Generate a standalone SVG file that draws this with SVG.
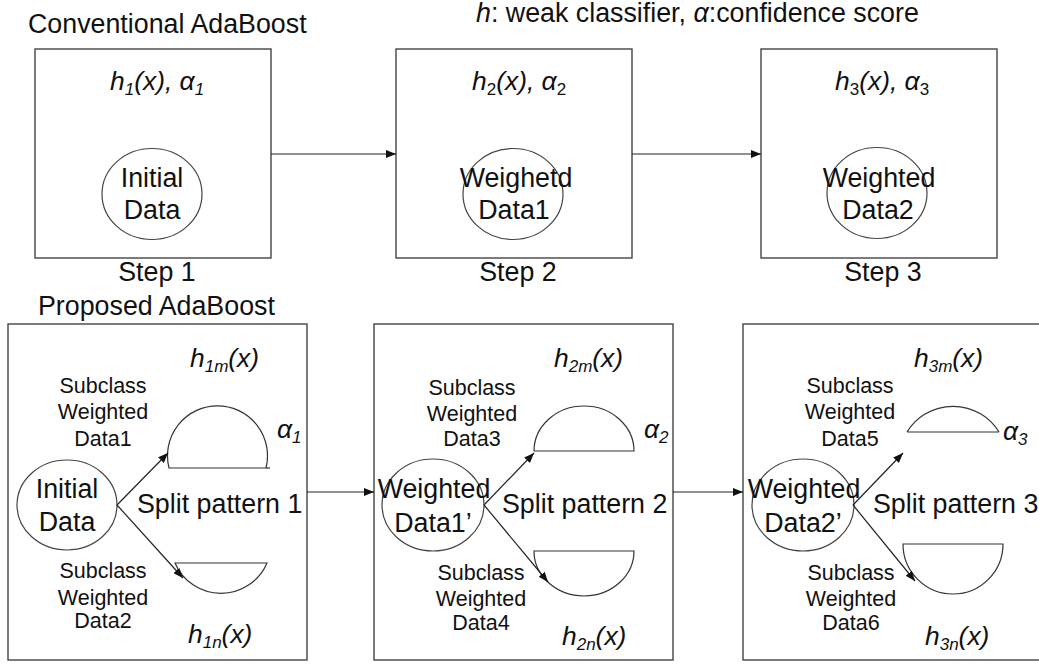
<svg xmlns="http://www.w3.org/2000/svg" width="1039" height="664" viewBox="0 0 1039 664">
  <style>
    .t { font-family: "Liberation Sans", Arial, sans-serif; fill: #111; }
    .big { font-size: 26.8px; }
    .sub { font-size: 21.5px; }
    .it { font-style: italic; font-size: 26.4px; }
    .s { font-size: 17px; }
    .box { fill: #fff; stroke: #444; stroke-width: 1.4; }
    .ell { fill: #fff; stroke: #444; stroke-width: 1.2; }
    .seg { fill: #fff; stroke: #333; stroke-width: 1.2; }
    .con { fill: none; stroke: #222; stroke-width: 1.2; marker-end: url(#ah); }
  </style>
  <defs>
    <marker id="ah" viewBox="0 0 10 8" refX="10" refY="4" markerWidth="10" markerHeight="8" markerUnits="userSpaceOnUse" orient="auto">
      <path d="M0,0 L10,4 L0,8 Z" fill="#111"/>
    </marker>
  </defs>
  <rect width="1039" height="664" fill="#fff"/>

  <!-- headings -->
  <text class="t big" x="28" y="33">Conventional AdaBoost</text>
  <text class="t big" x="476" y="22"><tspan font-style="italic">h</tspan>: weak classifier, <tspan font-style="italic">α</tspan>:confidence score</text>
  <text class="t big" x="38" y="315">Proposed AdaBoost</text>

  <!-- conventional: step 1 -->
  <g id="step1">
    <rect class="box" x="35" y="49" width="236" height="209"/>
    <text class="t it" x="110" y="90">h<tspan class="s" dy="5">1</tspan><tspan dy="-5">(x), α</tspan><tspan class="s" dy="5">1</tspan></text>
    <ellipse class="ell" cx="152" cy="194" rx="50" ry="45.5"/>
    <text class="t big" x="152" y="187" text-anchor="middle">Initial</text>
    <text class="t big" x="152" y="219" text-anchor="middle">Data</text>
    <text class="t big" x="157" y="281" text-anchor="middle">Step 1</text>
  </g>

  <!-- conventional: step 2 -->
  <g id="step2">
    <rect class="box" x="396" y="49" width="236" height="209"/>
    <text class="t it" x="472" y="90">h<tspan class="s" dy="5" font-style="normal">2</tspan><tspan dy="-5">(x), α</tspan><tspan class="s" dy="5" font-style="normal">2</tspan></text>
    <ellipse class="ell" cx="513" cy="194" rx="50" ry="45.5"/>
    <text class="t big" x="516" y="187" text-anchor="middle">Weighetd</text>
    <text class="t big" x="514" y="219" text-anchor="middle">Data1</text>
    <text class="t big" x="518" y="281" text-anchor="middle">Step 2</text>
  </g>

  <!-- conventional: step 3 -->
  <g id="step3">
    <rect class="box" x="761" y="49" width="236" height="209"/>
    <text class="t it" x="835" y="90">h<tspan class="s" dy="5" font-style="normal">3</tspan><tspan dy="-5">(x), α</tspan><tspan class="s" dy="5" font-style="normal">3</tspan></text>
    <ellipse class="ell" cx="877" cy="193" rx="50" ry="45.5"/>
    <text class="t big" x="879" y="187" text-anchor="middle">Weighted</text>
    <text class="t big" x="878" y="219" text-anchor="middle">Data2</text>
    <text class="t big" x="883" y="281" text-anchor="middle">Step 3</text>
  </g>

  <!-- proposed: pattern 1 -->
  <g id="pattern1">
    <rect class="box" x="8" y="324" width="299" height="336"/>
    <text class="t it" x="190" y="367">h<tspan class="s" dy="5">1m</tspan><tspan dy="-5">(x)</tspan></text>
    <text class="t sub" x="103" y="393" text-anchor="middle">Subclass</text>
    <text class="t sub" x="103" y="419" text-anchor="middle">Weighted</text>
    <text class="t sub" x="103" y="446" text-anchor="middle">Data1</text>
    <path class="seg" d="M169,468 A50,50 0 1 1 266,468 Z"/>
    <line x1="266" y1="468" x2="270" y2="468" stroke="#333" stroke-width="1.2"/>
    <text class="t it" x="277" y="438">α<tspan class="s" dy="5">1</tspan></text>
    <ellipse class="ell" cx="67" cy="505" rx="50" ry="45"/>
    <text class="t big" x="67" y="498" text-anchor="middle">Initial</text>
    <text class="t big" x="67" y="531" text-anchor="middle">Data</text>
    <text class="t big" x="137" y="513">Split pattern 1</text>
    <path class="seg" d="M175,563 L267,563 A50,50 0 0 1 175,563 Z"/>
    <text class="t sub" x="103" y="578" text-anchor="middle">Subclass</text>
    <text class="t sub" x="103" y="605" text-anchor="middle">Weighted</text>
    <text class="t sub" x="103" y="628" text-anchor="middle">Data2</text>
    <text class="t it" x="188" y="643">h<tspan class="s" dy="5">1n</tspan><tspan dy="-5">(x)</tspan></text>
  </g>

  <!-- proposed: pattern 2 -->
  <g id="pattern2">
    <rect class="box" x="374" y="324" width="299" height="336"/>
    <text class="t it" x="554" y="367">h<tspan class="s" dy="5">2m</tspan><tspan dy="-5">(x)</tspan></text>
    <text class="t sub" x="472" y="395" text-anchor="middle">Subclass</text>
    <text class="t sub" x="472" y="421" text-anchor="middle">Weighted</text>
    <text class="t sub" x="472" y="446" text-anchor="middle">Data3</text>
    <path class="seg" d="M534,451 A50,45 0 0 1 634,451 Z"/>
    <text class="t it" x="644" y="438">α<tspan class="s" dy="5">2</tspan></text>
    <ellipse class="ell" cx="433" cy="505" rx="51" ry="46"/>
    <text class="t big" x="434" y="498" text-anchor="middle">Weighted</text>
    <text class="t big" x="433" y="532" text-anchor="middle">Data1’</text>
    <text class="t big" x="502" y="513">Split pattern 2</text>
    <path class="seg" d="M534,551 L634,551 A50,45 0 0 1 534,551 Z"/>
    <text class="t sub" x="481" y="580" text-anchor="middle">Subclass</text>
    <text class="t sub" x="481" y="606" text-anchor="middle">Weighted</text>
    <text class="t sub" x="481" y="630" text-anchor="middle">Data4</text>
    <text class="t it" x="562" y="645">h<tspan class="s" dy="5">2n</tspan><tspan dy="-5">(x)</tspan></text>
  </g>

  <!-- proposed: pattern 3 -->
  <g id="pattern3">
    <rect class="box" x="743" y="324" width="320" height="336"/>
    <text class="t it" x="914" y="367">h<tspan class="s" dy="5">3m</tspan><tspan dy="-5">(x)</tspan></text>
    <text class="t sub" x="850" y="393" text-anchor="middle">Subclass</text>
    <text class="t sub" x="850" y="419" text-anchor="middle">Weighted</text>
    <text class="t sub" x="850" y="446" text-anchor="middle">Data5</text>
    <path class="seg" d="M907,432 L999,432 M907,432 A54,54 0 0 1 999,432"/>
    <text class="t it" x="1003" y="440">α<tspan class="s" dy="5">3</tspan></text>
    <ellipse class="ell" cx="803" cy="505" rx="51" ry="46"/>
    <text class="t big" x="804" y="498" text-anchor="middle">Weighted</text>
    <text class="t big" x="803" y="532" text-anchor="middle">Data2’</text>
    <text class="t big" x="873" y="513">Split pattern 3</text>
    <path class="seg" d="M903,544 L1003,544 A50,50 0 1 1 903,544 Z"/>
    <text class="t sub" x="851" y="580" text-anchor="middle">Subclass</text>
    <text class="t sub" x="851" y="606" text-anchor="middle">Weighted</text>
    <text class="t sub" x="851" y="630" text-anchor="middle">Data6</text>
    <text class="t it" x="925" y="645">h<tspan class="s" dy="5">3n</tspan><tspan dy="-5">(x)</tspan></text>
  </g>

  <!-- connectors -->
  <g id="connectors">
    <line class="con" x1="271" y1="154" x2="396" y2="154"/>
    <line class="con" x1="632" y1="154" x2="761" y2="154"/>
    <line class="con" x1="307" y1="492" x2="374" y2="492"/>
    <line class="con" x1="673" y1="492" x2="743" y2="492"/>
    <line class="con" x1="117" y1="505" x2="168" y2="453"/>
    <line class="con" x1="117" y1="505" x2="183" y2="578"/>
    <line class="con" x1="484" y1="505" x2="534" y2="453"/>
    <line class="con" x1="484" y1="505" x2="548" y2="582"/>
    <line class="con" x1="853" y1="505" x2="903" y2="453"/>
    <line class="con" x1="853" y1="505" x2="915" y2="581"/>
  </g>
</svg>
